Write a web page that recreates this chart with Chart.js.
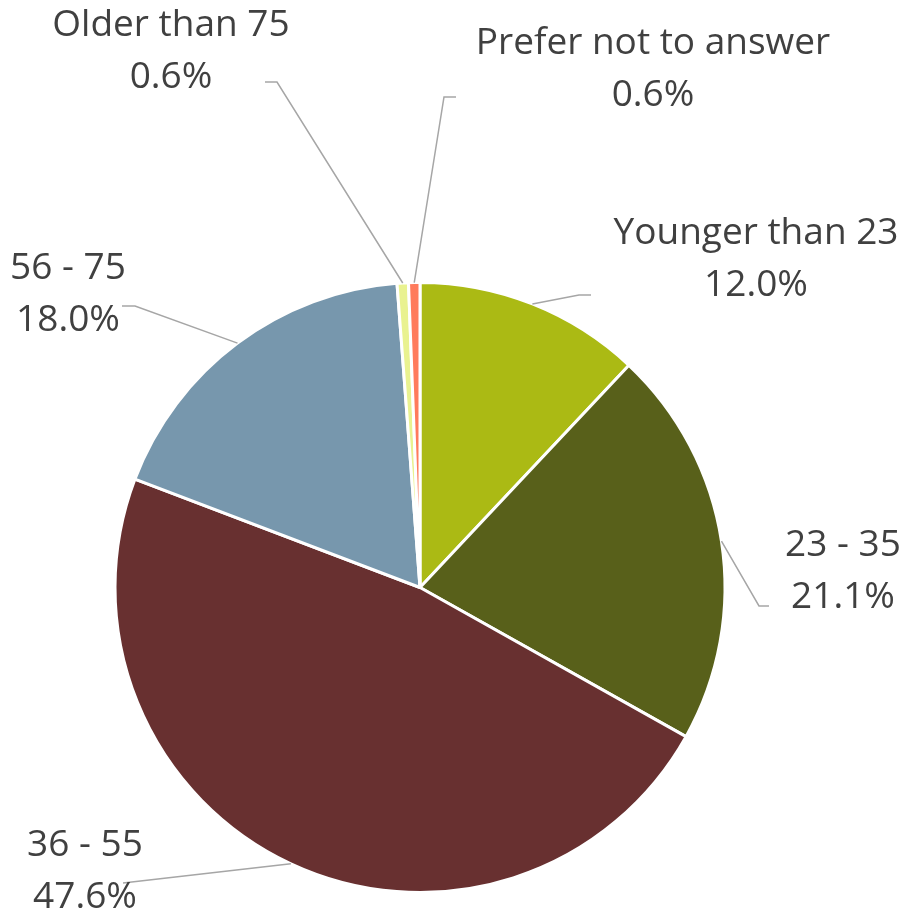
<!DOCTYPE html>
<html>
<head>
<meta charset="utf-8">
<script src="https://cdn.jsdelivr.net/npm/chart.js@4.4.1/dist/chart.umd.min.js"></script>
<style>
  html, body { margin: 0; padding: 0; background: #fff; }
  #wrap { width: 910px; height: 915px; }
</style>
</head>
<body>
<div id="wrap"><canvas id="pie"></canvas></div>
<script>
const categories = ["Younger than 23", "23 - 35", "36 - 55", "56 - 75", "Older than 75", "Prefer not to answer"];
const shares = [12.0, 21.1, 47.6, 18.0, 0.6, 0.6];
const shareLabels = ["12.0%", "21.1%", "47.6%", "18.0%", "0.6%", "0.6%"];
const colors = ["#abba14", "#58601a", "#683030", "#7797ad", "#e9f290", "#ff7b5c"];

// label placement (text centre x, first line y) and leader elbow points
const labelPos = [
  { x: 756, y: 233, pts: [[579, 295], [591, 295]] },
  { x: 843, y: 545, pts: [[759, 606], [769, 606]] },
  { x: 85, y: 845, pts: [[123, 883]] },
  { x: 68, y: 268, pts: [[135, 306], [122, 306]] },
  { x: 171, y: 25, pts: [[277, 82], [265, 82]] },
  { x: 653, y: 43, pts: [[444, 97], [456, 97]] }
];

const outsideLabels = {
  id: "outsideLabels",
  afterDatasetsDraw(chart) {
    const ctx = chart.ctx;
    const arcs = chart.getDatasetMeta(0).data;
    ctx.save();
    arcs.forEach((arc, i) => {
      const p = labelPos[i];
      const ang = (arc.startAngle + arc.endAngle) / 2;
      const sx = arc.x + Math.cos(ang) * arc.outerRadius;
      const sy = arc.y + Math.sin(ang) * arc.outerRadius;
      ctx.strokeStyle = "#a6a6a6";
      ctx.lineWidth = 1.5;
      ctx.beginPath();
      ctx.moveTo(sx, sy);
      p.pts.forEach(q => ctx.lineTo(q[0], q[1]));
      ctx.stroke();

      ctx.fillStyle = "#404040";
      ctx.font = "37px 'Open Sans'";
      ctx.textAlign = "center";
      ctx.textBaseline = "middle";
      ctx.fillText(categories[i], p.x, p.y);
      ctx.fillText(shareLabels[i], p.x, p.y + 52);
    });
    ctx.restore();
  }
};

new Chart(document.getElementById("pie"), {
  type: "pie",
  data: {
    labels: categories,
    datasets: [{
      data: shares,
      backgroundColor: colors,
      borderColor: "#ffffff",
      borderWidth: 3
    }]
  },
  options: {
    responsive: true,
    maintainAspectRatio: false,
    animation: false,
    layout: { padding: { left: 113, right: 183, top: 281, bottom: 21 } },
    plugins: {
      legend: { display: false },
      tooltip: { enabled: false }
    }
  },
  plugins: [outsideLabels]
});
</script>
</body>
</html>
